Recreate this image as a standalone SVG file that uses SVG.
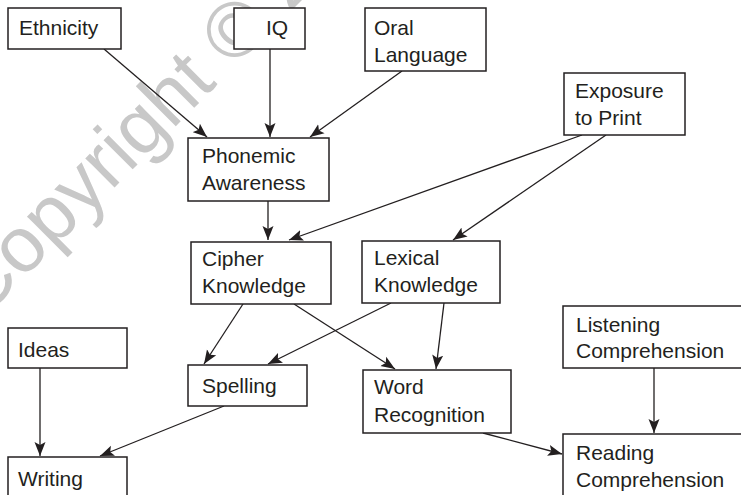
<svg xmlns="http://www.w3.org/2000/svg" width="741" height="495" viewBox="0 0 741 495">
<style>
.box{fill:#fff;stroke:#231f20;stroke-width:1.5}
.lbl{font-family:"Liberation Sans",Arial,sans-serif;font-size:21px;fill:#231f20}
.edge{stroke:#231f20;stroke-width:1.3;fill:none;marker-end:url(#ah)}
.wm{font-family:"Liberation Sans",Arial,sans-serif;font-size:78px;fill:#c8c8c8}
</style>
<defs>
<marker id="ah" markerUnits="userSpaceOnUse" markerWidth="15" markerHeight="12" refX="14" refY="6" orient="auto">
<path d="M0,0.5 L14,6 L0,11.5 L3,6 Z" fill="#231f20"/>
</marker>
</defs>
<rect width="741" height="495" fill="#fff"/>
<text class="wm" transform="translate(-18,320) rotate(-45)">Copyright © 2</text>
<g id="connectors">
<line class="edge" x1="104" y1="49" x2="207" y2="137"/>
<line class="edge" x1="270" y1="49" x2="270" y2="137"/>
<line class="edge" x1="402" y1="71" x2="310" y2="137"/>
<line class="edge" x1="268" y1="201" x2="268" y2="240"/>
<line class="edge" x1="582" y1="135" x2="289" y2="240"/>
<line class="edge" x1="606" y1="135" x2="453" y2="240"/>
<line class="edge" x1="243" y1="304" x2="204" y2="364"/>
<line class="edge" x1="294" y1="304" x2="395" y2="369"/>
<line class="edge" x1="391" y1="303" x2="268" y2="364"/>
<line class="edge" x1="444" y1="303" x2="436" y2="369"/>
<line class="edge" x1="40" y1="368" x2="40" y2="456"/>
<line class="edge" x1="224" y1="406" x2="100" y2="456"/>
<line class="edge" x1="654" y1="368" x2="654" y2="433"/>
<line class="edge" x1="483" y1="433" x2="562" y2="454"/>
</g>
<g id="ethnicity"><rect class="box" x="8" y="8" width="113" height="41"/><text class="lbl" x="19" y="35">Ethnicity</text></g>
<g id="iq"><rect class="box" x="234" y="8" width="71" height="41"/><text class="lbl" x="266" y="35">IQ</text></g>
<g id="oral-language"><rect class="box" x="365" y="8" width="121" height="63"/><text class="lbl" x="374" y="35">Oral</text><text class="lbl" x="374" y="62">Language</text></g>
<g id="exposure-to-print"><rect class="box" x="564" y="73" width="121" height="62"/><text class="lbl" x="575" y="98">Exposure</text><text class="lbl" x="575" y="125">to Print</text></g>
<g id="phonemic-awareness"><rect class="box" x="188" y="138" width="141" height="63"/><text class="lbl" x="202" y="163">Phonemic</text><text class="lbl" x="202" y="190">Awareness</text></g>
<g id="cipher-knowledge"><rect class="box" x="191" y="242" width="140" height="62"/><text class="lbl" x="202" y="266">Cipher</text><text class="lbl" x="202" y="293">Knowledge</text></g>
<g id="lexical-knowledge"><rect class="box" x="362" y="241" width="138" height="62"/><text class="lbl" x="374" y="265">Lexical</text><text class="lbl" x="374" y="292">Knowledge</text></g>
<g id="ideas"><rect class="box" x="8" y="328" width="119" height="40"/><text class="lbl" x="18" y="357">Ideas</text></g>
<g id="spelling"><rect class="box" x="188" y="365" width="119" height="41"/><text class="lbl" x="202" y="393">Spelling</text></g>
<g id="word-recognition"><rect class="box" x="363" y="370" width="148" height="63"/><text class="lbl" x="374" y="394">Word</text><text class="lbl" x="374" y="422">Recognition</text></g>
<g id="listening-comprehension"><rect class="box" x="563" y="306" width="185" height="62"/><text class="lbl" x="576" y="332">Listening</text><text class="lbl" x="576" y="358">Comprehension</text></g>
<g id="writing"><rect class="box" x="8" y="457" width="119" height="48"/><text class="lbl" x="18" y="486">Writing</text></g>
<g id="reading-comprehension"><rect class="box" x="563" y="434" width="185" height="70"/><text class="lbl" x="576" y="460">Reading</text><text class="lbl" x="576" y="487">Comprehension</text></g>
</svg>
